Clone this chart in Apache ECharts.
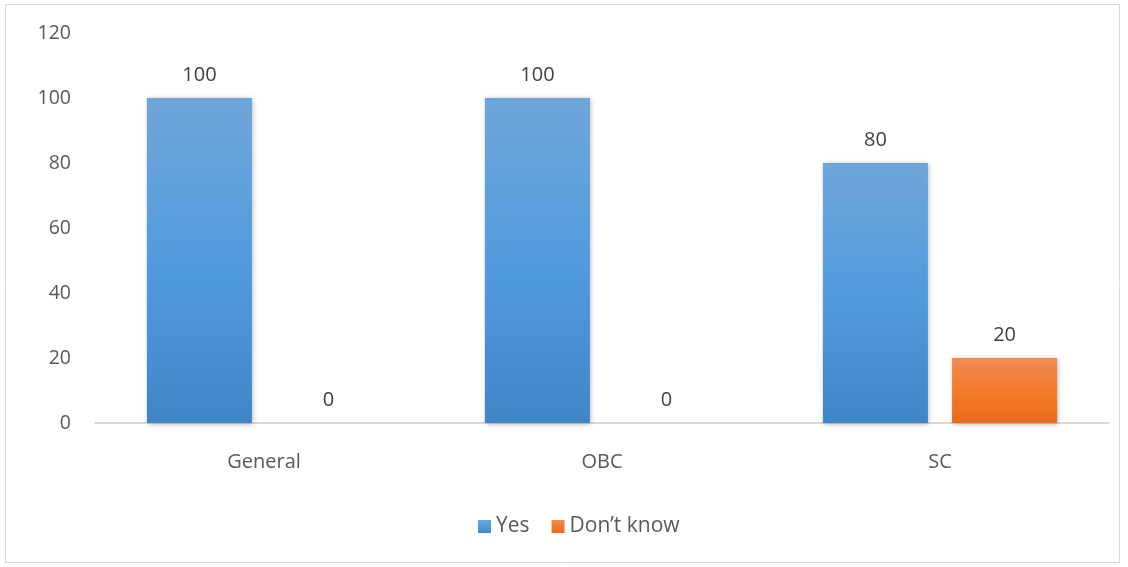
<!DOCTYPE html>
<html><head><meta charset="utf-8">
<script src="https://cdn.jsdelivr.net/npm/echarts@6/dist/echarts.min.js"></script>
<style>html,body{margin:0;padding:0;background:#fff}#c{width:1128px;height:567px}</style>
</head><body><div id="c"></div>
<script>
const categories = ["General", "OBC", "SC"];
const yesValues = [100, 100, 80];
const dontKnowValues = [0, 0, 20];
const seriesNames = ["Yes", "Don\u2019t know"];

const chart = echarts.init(document.getElementById('c'));
const grad = (top, mid, bot) => new echarts.graphic.LinearGradient(0, 0, 0, 1, [
  {offset: 0, color: top}, {offset: 0.5, color: mid}, {offset: 1, color: bot}]);
const font = '"Open Sans", sans-serif';
chart.setOption({
  animation: false,
  textStyle: {fontFamily: font},
  graphic: [{type: 'rect', shape: {x: 5.5, y: 4.5, width: 1114, height: 558},
    style: {fill: 'none', stroke: '#d9d9d9', lineWidth: 1}}],
  grid: {left: 95, right: 19, top: 33, bottom: 144},
  legend: {bottom: 25, left: 473, itemWidth: 13, itemHeight: 13, itemGap: 22,
    textStyle: {fontSize: 21, color: '#595959', fontFamily: font},
    data: [{name: seriesNames[0], icon: 'rect'}, {name: seriesNames[1], icon: 'rect'}]},
  xAxis: {type: 'category', data: categories,
    axisLine: {lineStyle: {color: '#d9d9d9', width: 2}}, axisTick: {show: false},
    axisLabel: {fontSize: 20, color: '#595959', margin: 29, fontFamily: font}},
  yAxis: {type: 'value', min: 0, max: 120, interval: 20,
    axisLine: {show: false}, axisTick: {show: false}, splitLine: {show: false},
    axisLabel: {fontSize: 19.5, color: '#595959', margin: 24, fontFamily: font}},
  series: [
    {name: seriesNames[0], type: 'bar', data: yesValues, barWidth: 105, barGap: '23%',
     itemStyle: {color: grad('#6fa6da', '#529bdd', '#3f86c7'), shadowColor: 'rgba(0,0,0,0.3)', shadowBlur: 5, shadowOffsetX: 1, shadowOffsetY: 1},
     label: {show: true, position: 'top', distance: 13, fontSize: 20, color: '#404040', fontFamily: font}},
    {name: seriesNames[1], type: 'bar', data: dontKnowValues, barWidth: 105,
     itemStyle: {color: grad('#f08b57', '#f47b2a', '#e86c1c'), shadowColor: 'rgba(0,0,0,0.3)', shadowBlur: 5, shadowOffsetX: 1, shadowOffsetY: 1},
     label: {show: true, position: 'top', distance: 13, fontSize: 20, color: '#404040', fontFamily: font}}
  ]
});
</script></body></html>
